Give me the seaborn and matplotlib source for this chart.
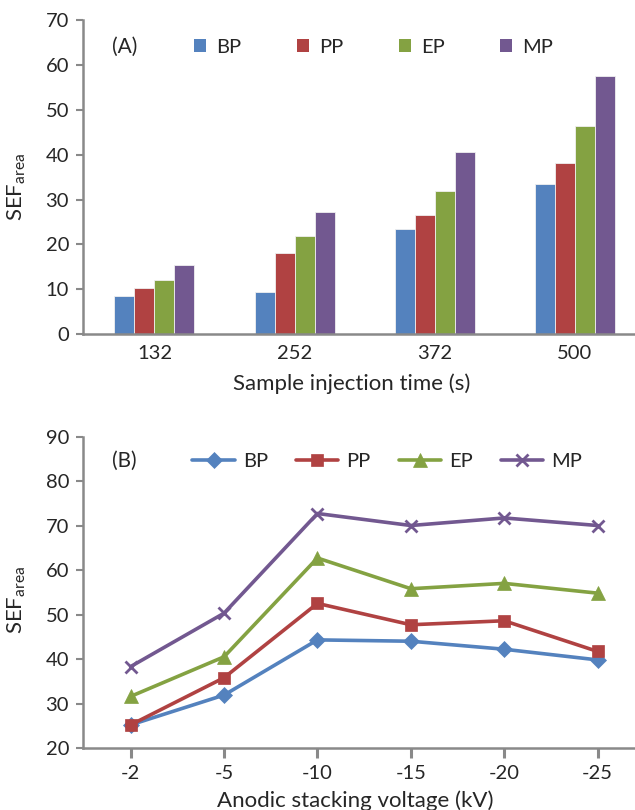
import matplotlib
matplotlib.use('Agg')
import matplotlib.pyplot as plt
import seaborn as sns
import pandas as pd
from matplotlib.lines import Line2D
from matplotlib.patches import Patch

# ---------------- data ----------------
series = ['BP', 'PP', 'EP', 'MP']

times = ['132', '252', '372', '500']
bp_a = [8.5, 9.5, 23.5, 33.5]
pp_a = [10.2, 18.2, 26.6, 38.2]
ep_a = [12.2, 21.8, 31.9, 46.5]
mp_a = [15.5, 27.2, 40.5, 57.6]

voltages = ['-2', '-5', '-10', '-15', '-20', '-25']
bp_b = [25.2, 31.9, 44.3, 44.0, 42.2, 39.8]
pp_b = [25.2, 35.8, 52.5, 47.7, 48.6, 41.7]
ep_b = [31.6, 40.5, 62.7, 55.8, 57.0, 54.8]
mp_b = [38.3, 50.3, 72.7, 70.0, 71.7, 70.0]

colors = ['#5482BE', '#B04242', '#84A242', '#725890']
markers = ['D', 's', '^', 'x']
msizes = [8, 8.5, 9.5, 9]

# ---------------- style ----------------
sns.set_theme(style='white')
plt.rcParams['font.family'] = ['Lato', 'DejaVu Sans']
plt.rcParams['mathtext.fontset'] = 'custom'
plt.rcParams['mathtext.rm'] = 'Lato'
axis_gray = '#898989'
TICK_FS = 14.5
LAB_FS = 16
LEG_FS = 14.5

fig = plt.figure(figsize=(6.35, 8.1), dpi=100)
ax1 = fig.add_axes([0.1307, 0.5873, 0.8693, 0.3880])
ax2 = fig.add_axes([0.1307, 0.0765, 0.8693, 0.3846])

# ---------------- top: bars ----------------
df_a = pd.DataFrame({
    'time': times * 4,
    'series': sum([[s] * len(times) for s in series], []),
    'value': bp_a + pp_a + ep_a + mp_a,
})
sns.barplot(data=df_a, x='time', y='value', hue='series', order=times,
            hue_order=series, palette=colors, width=0.571, gap=0,
            edgecolor='#f0f0f0', linewidth=0.6, saturation=1,
            legend=False, ax=ax1)
ax1.set_xlim(-0.51, 3.43)
ax1.set_ylim(0, 70)
ax1.set_yticks(range(0, 71, 10))

handles_a = [Patch(facecolor=c, edgecolor='none', label=s) for c, s in zip(colors, series)]
ax1.legend(handles=handles_a, ncol=4, frameon=False, loc='center left',
           bbox_to_anchor=(0.183, 0.914), fontsize=LEG_FS, handlelength=0.6,
           handleheight=0.6, handletextpad=0.5, columnspacing=2.75,
           borderpad=0)
ax1.text(0.052, 0.914, '(A)', transform=ax1.transAxes, fontsize=15,
         va='center', ha='left')
ax1.set_xlabel('Sample injection time (s)', fontsize=LAB_FS)
ax1.xaxis.set_label_coords(0.487, -0.126)
ax1.set_ylabel(r'SEF$_{\mathregular{area}}$', fontsize=LAB_FS)
ax1.yaxis.set_label_coords(-0.1, 0.47)
ax1.tick_params(axis='x', length=0, pad=8, labelsize=TICK_FS)

# ---------------- bottom: lines ----------------
vals_b = [bp_b, pp_b, ep_b, mp_b]
for s, c, m, ms, v in zip(series, colors, markers, msizes, vals_b):
    sns.pointplot(x=voltages, y=v, order=voltages, color=c, markers=m,
                  linestyles='-', errorbar=None, ax=ax2,
                  markersize=ms, linewidth=2.6,
                  markeredgewidth=2 if m == 'x' else 0.5)
ax2.set_xlim(-0.51, 5.40)
ax2.set_ylim(20, 90)
ax2.set_yticks(range(20, 91, 10))

handles_b = [Line2D([0], [0], color=c, lw=2.6, marker=m, markersize=ms,
                    markeredgewidth=2 if m == 'x' else 0.5, label=s)
             for c, m, ms, s in zip(colors, markers, msizes, series)]
ax2.legend(handles=handles_b, ncol=4, frameon=False, loc='center left',
           bbox_to_anchor=(0.18, 0.921), fontsize=LEG_FS, handlelength=2.1,
           handletextpad=0.4, columnspacing=1.4, borderpad=0)
ax2.text(0.052, 0.921, '(B)', transform=ax2.transAxes, fontsize=15,
         va='center', ha='left')
ax2.set_xlabel('Anodic stacking voltage (kV)', fontsize=LAB_FS)
ax2.xaxis.set_label_coords(0.493, -0.135)
ax2.set_ylabel(r'SEF$_{\mathregular{area}}$', fontsize=LAB_FS)
ax2.yaxis.set_label_coords(-0.1, 0.475)
ax2.tick_params(axis='x', length=7, width=2.2, color=axis_gray,
                direction='out', pad=5, labelsize=TICK_FS, bottom=True)

for ax in (ax1, ax2):
    for side in ('top', 'right'):
        ax.spines[side].set_visible(False)
    for side in ('left', 'bottom'):
        ax.spines[side].set_color(axis_gray)
        ax.spines[side].set_linewidth(1.8)
    ax.tick_params(axis='y', length=5, width=1.5, color=axis_gray,
                   direction='out', pad=5, labelsize=TICK_FS, left=True)
    ax.grid(False)

fig.savefig('out.png', dpi=100)
